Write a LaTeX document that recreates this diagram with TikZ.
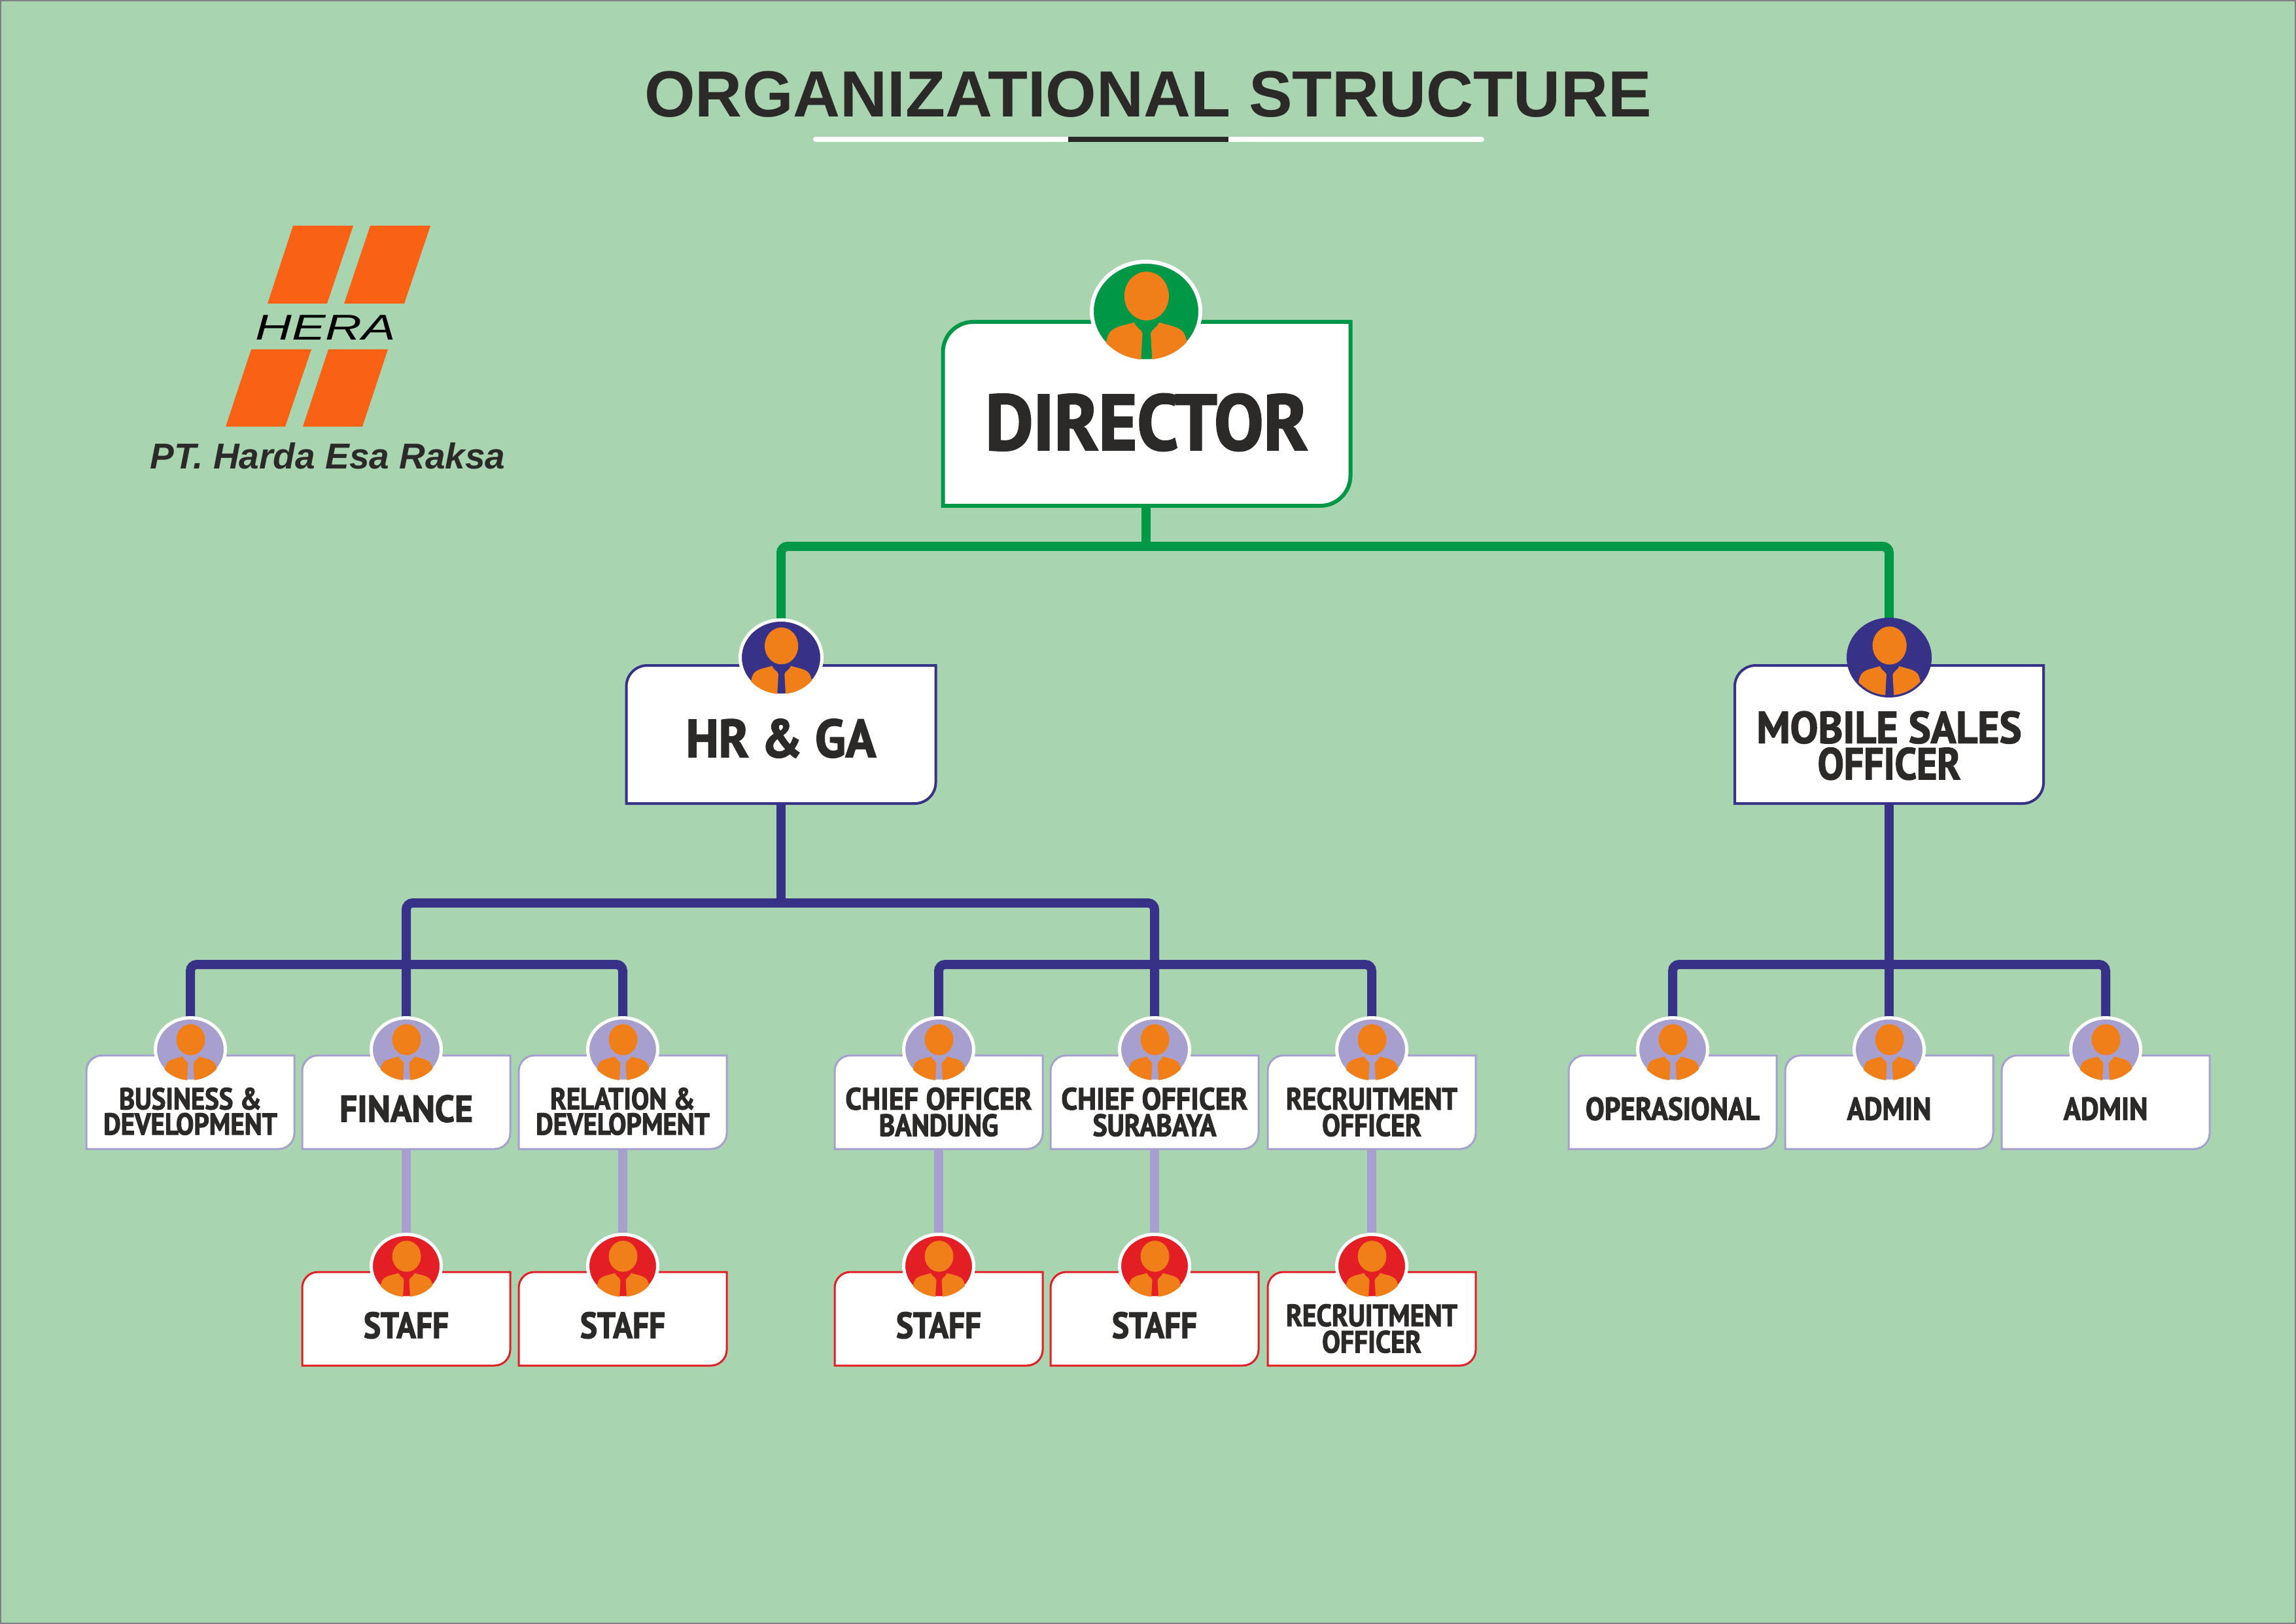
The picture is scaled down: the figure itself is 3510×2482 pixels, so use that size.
\documentclass[tikz,border=0pt]{standalone}
\usepackage{fontspec}
\usetikzlibrary{shapes.geometric,calc}
\setmainfont{Liberation Sans}
\newfontfamily\cart[FakeBold=2.2,FakeStretch=0.88]{PT Sans Bold}
\newfontfamily\cartw[FakeBold=2.2,FakeStretch=0.94]{PT Sans Bold}
\newfontfamily\herafont[FakeStretch=1.41]{Liberation Sans Italic}
\definecolor{pagebg}{HTML}{A9D4B0}
\definecolor{inkdark}{HTML}{2B2A29}
\definecolor{dirgreen}{HTML}{009846}
\definecolor{navy}{HTML}{373188}
\definecolor{lilac}{HTML}{A7A0CF}
\definecolor{redstaff}{HTML}{E31E24}
\definecolor{skin}{HTML}{F07F19}
\definecolor{logoorange}{HTML}{F96214}
\pgfdeclarelayer{under}
\pgfsetlayers{under,main}
\tikzset{
 x=0.25pt,y=-0.25pt,
 link/.style={line width=3.5pt,rounded corners=2.5pt},
 tag/.style={inner sep=0pt,align=center,text=inkdark},
 avatar/.style={shape=ellipse,inner sep=0pt,outer sep=0pt}
}
% \orgbox{name}{cx}{top}{w}{h}{colour}{line px}{radius px}{font size pt}[dy]{text}
\newcommand{\orgbox}[9]{\def\bname{#1}\def\bcx{#2}\def\btop{#3}\def\bw{#4}\def\bh{#5}\def\bcol{#6}\def\blw{#7}\def\brad{#8}\def\bfs{#9}\orgboxC}
\newcommand{\orgboxC}[2][0]{%
 \pgfmathsetmacro\bl{\bcx-\bw/2}\pgfmathsetmacro\br{\bcx+\bw/2}\pgfmathsetmacro\bb{\btop+\bh}%
 \pgfmathsetmacro\bly{\btop+\brad}\pgfmathsetmacro\blx{\bl+\brad}\pgfmathsetmacro\bry{\bb-\brad}\pgfmathsetmacro\brx{\br-\brad}%
 \pgfmathsetmacro\bqa{\brad*0.55}\pgfmathsetmacro\blead{\bfs*0.78}%
 \draw[draw=\bcol,fill=white,line width=\blw*0.25pt]
  (\bl,\bb) -- (\bl,\bly) .. controls (\bl,\bly-\bqa) and (\blx-\bqa,\btop) .. (\blx,\btop)
  -- (\br,\btop) -- (\br,\bry) .. controls (\br,\bry+\bqa) and (\brx+\bqa,\bb) .. (\brx,\bb) -- cycle;
 \pgfmathsetmacro\bcy{\btop+\bh/2+#1}%
 \node[tag,font=\cart\fontsize{\bfs pt}{\blead pt}\selectfont] (\bname) at (\bcx,\bcy) {#2};%
}
% \person{name}{cx}{cy}{rx}{ry}{colour}{ring}{ring px}
\newcommand{\person}[8]{%
 \pgfmathsetmacro\prx{#4-#8/2}\pgfmathsetmacro\pry{#5-#8/2}%
 \node[avatar,fill=#6,draw=#7,line width=#8*0.25pt,minimum width=\prx*0.5pt,minimum height=\pry*0.5pt] (#1) at (#2,#3) {};
 \begin{scope}[shift={(#2,#3)},x=\prx*0.25pt,y=-\pry*0.25pt]
  \clip (0,0) ellipse [x radius=0.97,y radius=0.97];
  \fill[skin] (0.01,-0.31) ellipse [x radius=0.41,y radius=0.49];
  \fill[skin] (-0.8,1.1) -- (-0.74,0.65) .. controls (-0.71,0.5) and (-0.69,0.42) .. (-0.62,0.37)
    .. controls (-0.52,0.29) and (-0.36,0.27) .. (-0.22,0.22)
    .. controls (-0.18,0.34) and (-0.07,0.36) .. (-0.065,0.45) -- (-0.1,1.1) -- cycle;
  \fill[skin] (0.8,1.1) -- (0.76,0.65) .. controls (0.73,0.5) and (0.71,0.42) .. (0.64,0.37)
    .. controls (0.54,0.29) and (0.38,0.27) .. (0.24,0.22)
    .. controls (0.2,0.34) and (0.09,0.36) .. (0.085,0.45) -- (0.12,1.1) -- cycle;
 \end{scope}}
% \smallunit{name}{cx}{top}{colour}{size}{dy}{text}
\newcommand{\smallunit}[7]{%
 \orgbox{#1}{#2}{#3}{318}{143}{#4}{3}{24}{#5}[#6]{#7}
 \pgfmathsetmacro\pcy{#3-9}%
 \person{#1p}{#2}{\pcy}{56}{51}{#4}{white}{5}}
\begin{document}
\begin{tikzpicture}
\useasboundingbox (0,0) rectangle (3510,2482);
\begin{pgfonlayer}{under}
 \fill[pagebg] (0,0) rectangle (3510,2482);
 \draw[black!50,line width=0.5pt] (1,1) rectangle (3509,2481);
\end{pgfonlayer}

% title
\node[inner sep=0pt,font=\bfseries\fontsize{24.95}{30}\selectfont,text=inkdark] (title) at (1755,144) {ORGANIZATIONAL STRUCTURE};
\coordinate (ruleL) at (1247,213);
\coordinate (ruleR) at (2265,213);
\coordinate (ruleA) at (1633,213);
\coordinate (ruleB) at (1878,213);
\draw[white,line width=2pt,line cap=round] (ruleL) -- (ruleR);
\draw[inkdark,line width=2pt] (ruleA) -- (ruleB);

% logo
\fill[logoorange] (448,345) -- (540,345) -- (500,464) -- (409,464) -- cycle;
\fill[logoorange] (566,345) -- (658,345) -- (618,464) -- (526,464) -- cycle;
\fill[logoorange] (384,534) -- (476,534) -- (436,652) -- (345,652) -- cycle;
\fill[logoorange] (502,534) -- (593,534) -- (554,652) -- (463,652) -- cycle;
\node[inner sep=0pt,font=\herafont\fontsize{13.7}{16}\selectfont,text=black] (hera) at (498,501) {HERA};
\node[inner sep=0pt,font=\bfseries\itshape\fontsize{13.75}{16}\selectfont,text=inkdark] (pt) at (501,697) {PT. Harda Esa Raksa};

% director
\orgbox{dir}{1753}{492}{623}{281}{dirgreen}{6}{46}{30}[13]{\cartw DIRECTOR}
\person{dirp}{1752}{476}{86}{79}{dirgreen}{white}{6}
% managers
\orgbox{hr}{1194}{1017}{473}{211}{navy}{4}{32}{20.4}[6]{\cartw HR \& GA}
\person{hrp}{1194}{1005}{65}{60}{navy}{white}{5}
\orgbox{mob}{2888}{1017}{472}{211}{navy}{4}{32}{17}[17]{\cartw MOBILE SALES\\[0.6pt]OFFICER}
\person{mobp}{2888}{1005}{65}{61}{navy}{navy}{3}
% team row
\smallunit{bd}{291}{1613}{lilac}{11.6}{14}{BUSINESS \&\\[0.6pt]DEVELOPMENT}
\smallunit{fin}{621}{1613}{lilac}{14.3}{10}{\cartw FINANCE}
\smallunit{rel}{952}{1613}{lilac}{11.6}{14}{RELATION \&\\[0.6pt]DEVELOPMENT}
\smallunit{cob}{1435}{1613}{lilac}{11.8}{15}{\cartw CHIEF OFFICER\\[0.9pt]BANDUNG}
\smallunit{cos}{1765}{1613}{lilac}{11.8}{15}{\cartw CHIEF OFFICER\\[0.9pt]SURABAYA}
\smallunit{rec}{2097}{1613}{lilac}{11.8}{15}{RECRUITMENT\\[0.9pt]OFFICER}
\smallunit{ops}{2557}{1613}{lilac}{12.2}{10}{OPERASIONAL}
\smallunit{adma}{2888}{1613}{lilac}{12.2}{10}{ADMIN}
\smallunit{admb}{3219}{1613}{lilac}{12.2}{10}{ADMIN}
% staff row
\smallunit{sfin}{621}{1944}{redstaff}{14}{10}{STAFF}
\smallunit{srel}{952}{1944}{redstaff}{14}{10}{STAFF}
\smallunit{scob}{1435}{1944}{redstaff}{14}{10}{STAFF}
\smallunit{scos}{1765}{1944}{redstaff}{14}{10}{STAFF}
\smallunit{srec}{2097}{1944}{redstaff}{11.8}{15}{RECRUITMENT\\[0.9pt]OFFICER}

% connectors
\coordinate (busTop) at (1752,835);
\coordinate (busHr) at (1194,1380);
\coordinate (busRow) at (621,1474);
\begin{pgfonlayer}{under}
 \draw[link,dirgreen] (dirp) -- (busTop);
 \draw[link,dirgreen] (hrp) |- (busTop) -| (mobp);
 \draw[link,navy] (hrp) -- (busHr);
 \draw[link,navy] (finp) |- (busHr) -| (cosp);
 \draw[link,navy] (bdp) |- (busRow) -| (relp);
 \draw[link,navy] (cobp) |- (cosp |- busRow) -| (recp);
 \draw[link,navy] (mobp) -- (admap);
 \draw[link,navy] (opsp) |- (admap |- busRow) -| (admbp);
 \foreach \a/\b in {finp/sfinp,relp/srelp,cobp/scobp,cosp/scosp,recp/srecp}
  \draw[lilac,line width=3.4pt] (\a) -- (\b);
\end{pgfonlayer}
\end{tikzpicture}
\end{document}
